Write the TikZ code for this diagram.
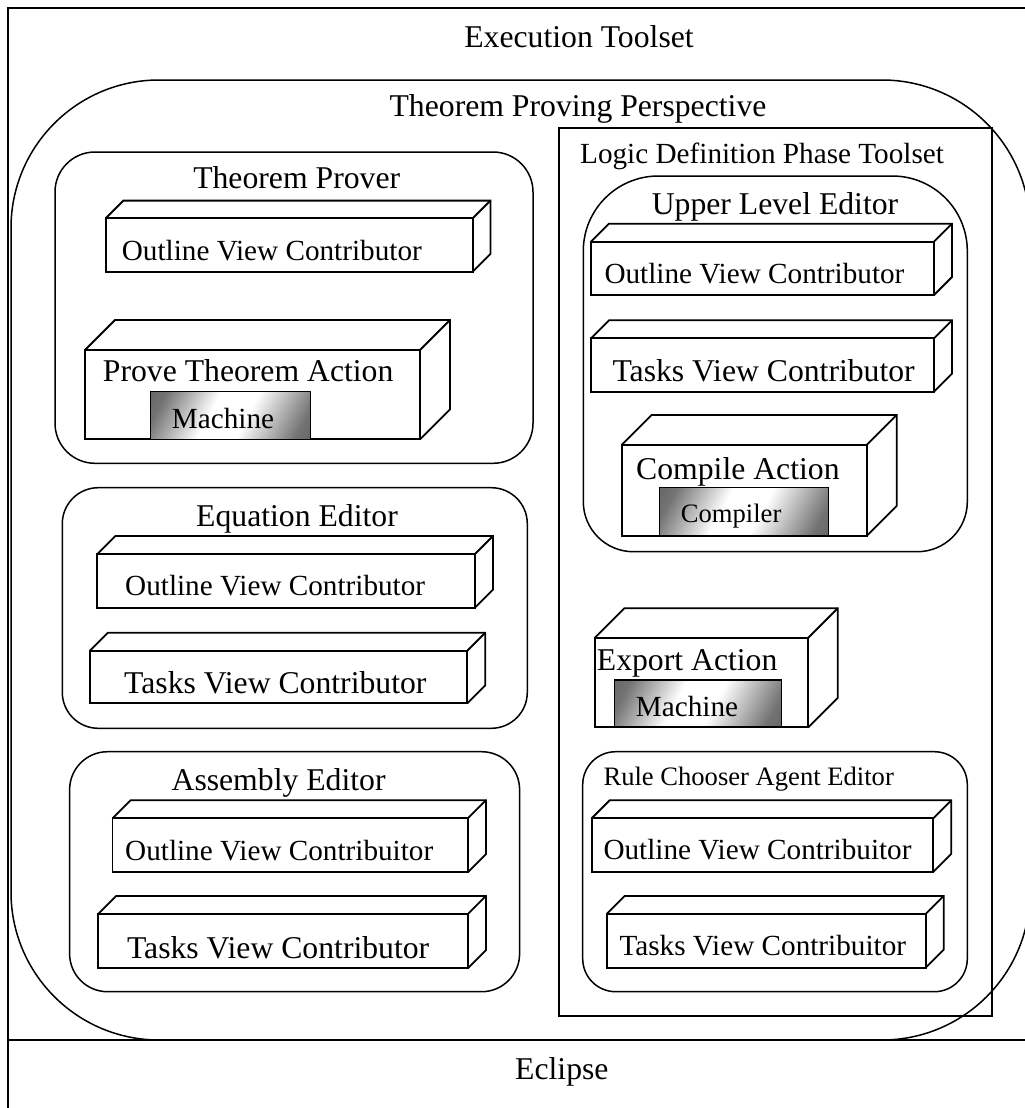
\documentclass[tikz,border=0pt]{standalone}
\usepackage{fontspec}
\setmainfont{Liberation Serif}
\pgfdeclarehorizontalshading{machshade}{100bp}{color(0bp)=(black!72); color(22bp)=(black!55); color(42bp)=(white); color(56bp)=(white); color(78bp)=(black!55); color(100bp)=(black!72)}
\tikzset{
  frameline/.style={line width=2pt},
  roundline/.style={line width=1.5pt},
  cubeline/.style={line width=1.8pt, line join=miter},
  txtbig/.style={font=\fontsize{31.7}{36}\selectfont, inner sep=0pt},
  txtmid/.style={font=\fontsize{29.2}{34}\selectfont, inner sep=0pt},
  txtsmall/.style={font=\fontsize{26.6}{30}\selectfont, inner sep=0pt},
  gradbox/.style={draw=black, line width=1.5pt, shading=machshade, shading angle=-28},
}
\newcommand{\mycube}[5]{%
  \draw[cubeline] (#1,#2) rectangle (#3,#4);
  \draw[cubeline] (#1,#2) -- ({#1+#5},{#2-#5}) -- ({#3+#5},{#2-#5}) -- ({#3+#5},{#4-#5}) -- (#3,#4);
  \draw[cubeline] (#3,#2) -- ({#3+#5},{#2-#5});
}
\begin{document}
\begin{tikzpicture}[x=1pt,y=-1pt]
\useasboundingbox (0,0) rectangle (1025,1108);
\clip (0,0) rectangle (1025,1108);
% outer frame
\draw[frameline] (8,8) rectangle (1040,1120);
\draw[frameline] (8,1040) -- (1040,1040);
\node[txtbig, anchor=base] (exec) at (579,47.3) {Execution Toolset};
\node[txtbig, anchor=base west] (eclipse) at (515,1079) {Eclipse};
% perspective
\draw[roundline, rounded corners=148pt] (11,80) rectangle (1030,1040);
\node[txtbig, anchor=base] (persp) at (578,116.7) {Theorem Proving Perspective};
% logic definition toolset
\draw[cubeline] (559,128.3) rectangle (991.7,1016);
\node[txtmid, anchor=base west] (logic) at (580,163.3) {Logic Definition Phase Toolset};

% Theorem Prover
\draw[roundline, rounded corners=40pt] (55,152) rectangle (533,463.3);
\node[txtbig, anchor=base] (tp) at (296.7,188.3) {Theorem Prover};
\mycube{105.7}{218.3}{472.7}{271.7}{17.7}
\node[txtmid, anchor=base west] (tpout) at (121.7,260) {Outline View Contributor};
\mycube{85}{350}{420}{439.3}{30}
\node[txtbig, anchor=base west] (prove) at (102.7,381.7) {Prove Theorem Action};
\path[gradbox] (150.7,391.7) rectangle (310.7,439.3);
\node[txtmid, anchor=base west] (mach1) at (171.7,428.3) {Machine};

% Equation Editor
\draw[roundline, rounded corners=36pt] (62.3,487.7) rectangle (527.3,728.3);
\node[txtbig, anchor=base] (ee) at (297,526.7) {Equation Editor};
\mycube{97.3}{554}{475}{607.7}{18}
\node[txtmid, anchor=base west] (eeout) at (125,595.7) {Outline View Contributor};
\mycube{90}{650.7}{467.3}{703.3}{18}
\node[txtbig, anchor=base west] (eetask) at (124,693.3) {Tasks View Contributor};

% Assembly Editor
\draw[roundline, rounded corners=38pt] (69.6,751.7) rectangle (519.6,991.7);
\node[txtbig, anchor=base] (ae) at (278.6,790) {Assembly Editor};
\mycube{112.5}{818.3}{467.9}{872.3}{18}
\node[txtmid, anchor=base west] (aeout) at (125,860) {Outline View Contribuitor};
\mycube{98.2}{914}{467.9}{968.3}{18}
\node[txtbig, anchor=base west] (aetask) at (126.8,958.3) {Tasks View Contributor};

% Upper Level Editor
\draw[roundline, rounded corners=75pt] (583.3,400) |- (775,176) -| (967.3,400)
  [rounded corners=50pt] |- (775,551.7) -| (583.3,400);
\node[txtbig, anchor=base] (ule) at (775,214.3) {Upper Level Editor};
\mycube{591}{241.7}{934}{295}{18}
\node[txtmid, anchor=base west] (uleout) at (604.3,283.3) {Outline View Contributor};
\mycube{591}{338.3}{934}{391.7}{18}
\node[txtbig, anchor=base west] (uletask) at (612.3,381.7) {Tasks View Contributor};
\mycube{621.7}{445}{866.7}{536}{30}
\node[txtbig, anchor=base west] (compile) at (636,479.3) {Compile Action};
\path[gradbox] (659.3,487.7) rectangle (828.3,536);
\node[txtsmall, anchor=base west] (compiler) at (680.7,522.7) {Compiler};

% Export Action
\mycube{595}{637.7}{808.3}{727.3}{29.5}
\node[txtbig, anchor=base west] (export) at (596.7,670) {Export Action};
\path[gradbox] (614.3,680) rectangle (781.7,726.7);
\node[txtmid, anchor=base west] (mach2) at (635.7,716.7) {Machine};

% Rule Chooser Agent Editor
\draw[roundline, rounded corners=33pt] (582.7,751.7) rectangle (967.3,991.7);
\node[txtsmall, anchor=base west] (rc) at (603.3,785) {Rule Chooser Agent Editor};
\mycube{591.7}{818.3}{933.3}{871.7}{18}
\node[txtmid, anchor=base west] (rcout) at (603.3,859.3) {Outline View Contribuitor};
\mycube{606.7}{914}{925.7}{967.7}{18}
\node[txtmid, anchor=base west] (rctask) at (619.3,955) {Tasks View Contribuitor};
\end{tikzpicture}
\end{document}
